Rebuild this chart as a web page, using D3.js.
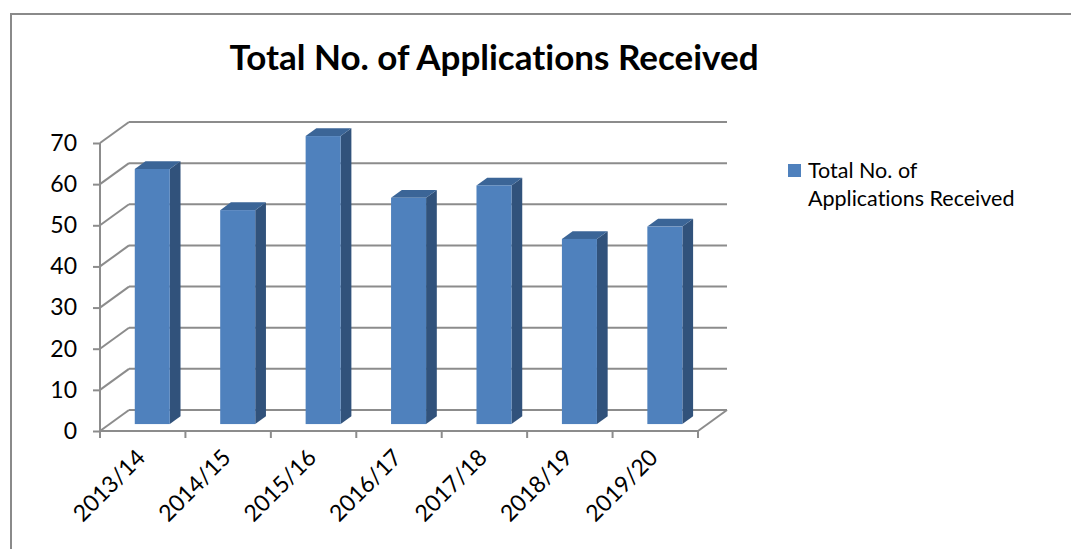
<!DOCTYPE html>
<html>
<head>
<meta charset="utf-8">
<script src="https://cdn.jsdelivr.net/npm/d3@7"></script>
<style>
  html, body { margin: 0; padding: 0; background: #fff; }
  svg { display: block; font-family: Lato, "Open Sans", sans-serif; font-variant-ligatures: none; }
</style>
</head>
<body>
<svg id="chart" width="1071" height="549"></svg>
<script>
// Data
const categories = ["2013/14", "2014/15", "2015/16", "2016/17", "2017/18", "2018/19", "2019/20"];
const values = [62, 52, 70, 55, 58, 45, 48];
const yTicks = [0, 10, 20, 30, 40, 50, 60, 70];
const seriesName = "Total No. of Applications Received";
const legendLines = ["Total No. of", "Applications Received"];

const svg = d3.select("#chart");
const W = 1071, H = 549;

// Chart frame
svg.append("path")
  .attr("d", `M11,${H} L11,14 L${W},14`)
  .attr("fill", "none")
  .attr("stroke", "#8a8a8a")
  .attr("stroke-width", 2);

// Plot geometry (front plane) and depth vector of the 3D box
const plotLeft = 100, plotRight = 698, plotBottom = 431, plotTop = 143;
const depth = { x: 29, y: -21 };

const x = d3.scaleBand().domain(categories).range([plotLeft, plotRight])
  .paddingInner(0.59).paddingOuter(0.295);
const xStep = d3.scaleBand().domain(categories).range([plotLeft, plotRight]);
const y = d3.scaleLinear().domain([0, 70]).range([plotBottom, plotTop]);

const gridColor = "#8c8c8c";
const grid = svg.append("g").attr("fill", "none").attr("stroke", gridColor).attr("stroke-width", 2);

// Back wall lines and left wall diagonals
yTicks.forEach(t => {
  const yy = y(t);
  grid.append("line")
    .attr("x1", plotLeft + depth.x).attr("y1", yy + depth.y)
    .attr("x2", plotRight + depth.x).attr("y2", yy + depth.y);
  grid.append("line")
    .attr("x1", plotLeft).attr("y1", yy)
    .attr("x2", plotLeft + depth.x).attr("y2", yy + depth.y);
});

// Floor outline: front edge and right edge
grid.append("line")
  .attr("x1", plotLeft).attr("y1", y(0)).attr("x2", plotRight).attr("y2", y(0));
grid.append("line")
  .attr("x1", plotRight).attr("y1", y(0))
  .attr("x2", plotRight + depth.x).attr("y2", y(0) + depth.y);

// Vertical axis
const yAxis = d3.axisLeft(y).tickValues(yTicks).tickSize(7).tickPadding(16);
const gy = svg.append("g").attr("transform", `translate(${plotLeft},0)`).call(yAxis);
gy.select(".domain").attr("stroke", gridColor).attr("stroke-width", 2)
  .attr("d", `M0,${y(70)}V${y(0)}`);
gy.selectAll(".tick line").attr("stroke", gridColor).attr("stroke-width", 2);
gy.selectAll(".tick text")
  .attr("font-family", "Lato, sans-serif")
  .attr("font-size", 23).attr("fill", "#000");

// Category axis: ticks at category boundaries
const boundaries = categories.map(c => xStep(c)).concat([plotRight]);
svg.append("g").selectAll("line").data(boundaries).join("line")
  .attr("x1", d => d).attr("x2", d => d)
  .attr("y1", y(0)).attr("y2", y(0) + 7)
  .attr("stroke", gridColor).attr("stroke-width", 2);

svg.append("g").selectAll("text").data(categories).join("text")
  .attr("transform", d => `translate(${xStep(d) + xStep.bandwidth() / 2 + 4},${y(0) + 28}) rotate(-45)`)
  .attr("text-anchor", "end")
  .attr("font-size", 23)
  .attr("fill", "#000")
  .text(d => d);

// 3D bars
const f0 = 0.33, f1 = 0.70;
const off0 = { x: depth.x * f0, y: depth.y * f0 };
const sd = { x: depth.x * (f1 - f0), y: depth.y * (f1 - f0) };
const colors = { front: "#4f81bd", side: "#31527b", top: "#3b6597" };

const bars = svg.append("g").selectAll("g").data(categories.map((c, i) => ({ c, v: values[i] }))).join("g");

bars.each(function(d) {
  const g = d3.select(this);
  const x0 = x(d.c) + off0.x, x1 = x0 + x.bandwidth();
  const yb = y(0) + off0.y, yt = y(d.v) + off0.y;
  // side face
  g.append("path")
    .attr("d", `M${x1},${yb} L${x1 + sd.x},${yb + sd.y} L${x1 + sd.x},${yt + sd.y} L${x1},${yt} Z`)
    .attr("fill", colors.side);
  // top face
  g.append("path")
    .attr("d", `M${x0},${yt} L${x0 + sd.x},${yt + sd.y} L${x1 + sd.x},${yt + sd.y} L${x1},${yt} Z`)
    .attr("fill", colors.top);
  // front face
  g.append("rect")
    .attr("x", x0).attr("y", yt)
    .attr("width", x.bandwidth()).attr("height", yb - yt)
    .attr("fill", colors.front);
});

// Title
svg.append("text")
  .attr("x", 494).attr("y", 70)
  .attr("text-anchor", "middle")
  .attr("font-size", 35).attr("font-weight", "bold")
  .attr("fill", "#000")
  .text(seriesName);

// Legend
const lg = svg.append("g").attr("transform", "translate(788,164)");
lg.append("rect").attr("width", 13).attr("height", 13).attr("fill", colors.front);
lg.selectAll("text").data(legendLines).join("text")
  .attr("x", 20).attr("y", (d, i) => 14 + i * 28)
  .attr("font-size", 21.5).attr("fill", "#000")
  .text(d => d);
</script>
</body>
</html>
